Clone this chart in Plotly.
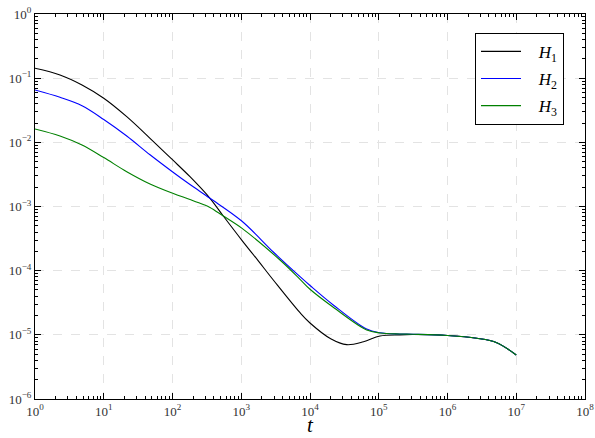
import plotly.graph_objects as go

# ---- data ----
t1 = [1, 2.31, 4.83, 10, 21.6, 47.1, 100.7, 179.7, 351, 548, 1016, 1770, 2925, 7160,
      1e4, 2e4, 3.42e4, 6e4, 1.042e5, 2.03e5, 3.16e5, 1e6, 2.66e6, 5.2e6, 1e7]
H1 = [0.1425, 0.1120, 0.0782, 0.0486, 0.0251, 0.01156, 0.00531, 0.00291, 0.001343,
      7.11e-4, 3.0e-4, 1.42e-4, 7.16e-5, 2.21e-5, 1.53e-5, 8.7e-6, 7.03e-6, 7.8e-6,
      9.6e-6, 1.0e-5, 1.01e-5, 9.75e-6, 8.83e-6, 7.55e-6, 4.85e-6]

t2 = [1, 2.31, 4.83, 10, 21.6, 47.1, 100.7, 179.7, 351, 1016, 2925, 7160, 1e4, 2.18e4,
      6.68e4, 1.042e5, 2.03e5, 3.16e5, 1e6, 2.66e6, 5.2e6, 1e7]
H2 = [0.0654, 0.0503, 0.0372, 0.0227, 0.01256, 0.0064, 0.00345, 0.0022, 0.001343,
      5.94e-4, 1.954e-4, 8.05e-5, 5.87e-5, 2.92e-5, 1.23e-5, 1.08e-5, 1.03e-5, 1.02e-5,
      9.75e-6, 8.83e-6, 7.55e-6, 4.85e-6]

t3 = [1, 2.31, 4.83, 10, 21.6, 47.1, 100.7, 179.7, 280, 351, 548, 1016, 3660, 7160,
      1e4, 2.18e4, 6.68e4, 1.042e5, 2.03e5, 3.16e5, 1e6, 2.66e6, 5.2e6, 1e7]
H3 = [0.01614, 0.01256, 0.00909, 0.00579, 0.00349, 0.002244, 0.001607, 0.001286,
      1.075e-3, 9.66e-4, 7.11e-4, 4.6e-4, 1.466e-4, 7.34e-5, 5.13e-5, 2.69e-5, 1.19e-5,
      1.07e-5, 1.03e-5, 1.02e-5, 9.75e-6, 8.83e-6, 7.55e-6, 4.85e-6]

names = ["\u00a0\u00a0\u00a0<i>H</i><sub>1</sub>",
         "\u00a0\u00a0\u00a0<i>H</i><sub>2</sub>",
         "\u00a0\u00a0\u00a0<i>H</i><sub>3</sub>"]
colors = ["#000000", "#0000ff", "#008000"]

x_exps = list(range(0, 9))
y_exps = list(range(-6, 1))


def sup(e):
    s = str(e).replace("-", "\u2212")
    return f"10<sup>{s}</sup>"


font_family = "Liberation Serif"

fig = go.Figure()
for i, (t, H, n, c) in enumerate(zip([t1, t2, t3], [H1, H2, H3], names, colors)):
    fig.add_trace(go.Scatter(x=t, y=H, mode="lines", name=n, legendgroup=f"g{i}",
                             line=dict(color=c, width=1.1, shape="spline", smoothing=1.0)))

minor_x = [m * 10 ** e for e in range(0, 8) for m in range(2, 10)]
minor_y = [m * 10 ** e for e in range(-6, 0) for m in range(2, 10)]

axis_common = dict(
    type="log", showline=True, linecolor="#000000", linewidth=1, mirror="allticks",
    ticks="inside", ticklen=6, tickcolor="#000000", tickwidth=1,
    showgrid=True, gridcolor="#e3e3e3", griddash="dash", gridwidth=1,
    zeroline=False, automargin=False, ticklabeloverflow="allow",
    tickfont=dict(family=font_family, size=13, color="#333333"),
)

fig.update_xaxes(
    **axis_common,
    range=[0, 8],
    tickvals=[10 ** e for e in x_exps], ticktext=[sup(e) for e in x_exps],
    ticklabelstandoff=0,
    minor=dict(tickvals=minor_x, ticks="inside", ticklen=3, tickcolor="#000000", showgrid=False),
)
fig.update_yaxes(
    **axis_common,
    range=[-6, 0],
    tickvals=[10 ** e for e in y_exps], ticktext=[sup(e) for e in y_exps],
    minor=dict(tickvals=minor_y, ticks="inside", ticklen=3, tickcolor="#000000", showgrid=False),
)

fig.add_annotation(text="<i>t</i>", xref="paper", yref="paper", x=0.5, y=-0.1,
                   xanchor="center", yanchor="bottom", showarrow=False, borderpad=0,
                   font=dict(family=font_family, size=21, color="#000000"))

fig.update_layout(
    width=595, height=438,
    margin=dict(l=35, r=10, t=14, b=39),
    paper_bgcolor="white", plot_bgcolor="white",
    font=dict(family=font_family, color="#000000"),
    legend=dict(x=0.8, y=0.951, xanchor="left", yanchor="top",
                bordercolor="#000000", borderwidth=1, bgcolor="white",
                font=dict(family=font_family, size=17, color="#000000"),
                tracegroupgap=2, itemwidth=40),
    showlegend=True,
)

fig.write_html("out.html")
